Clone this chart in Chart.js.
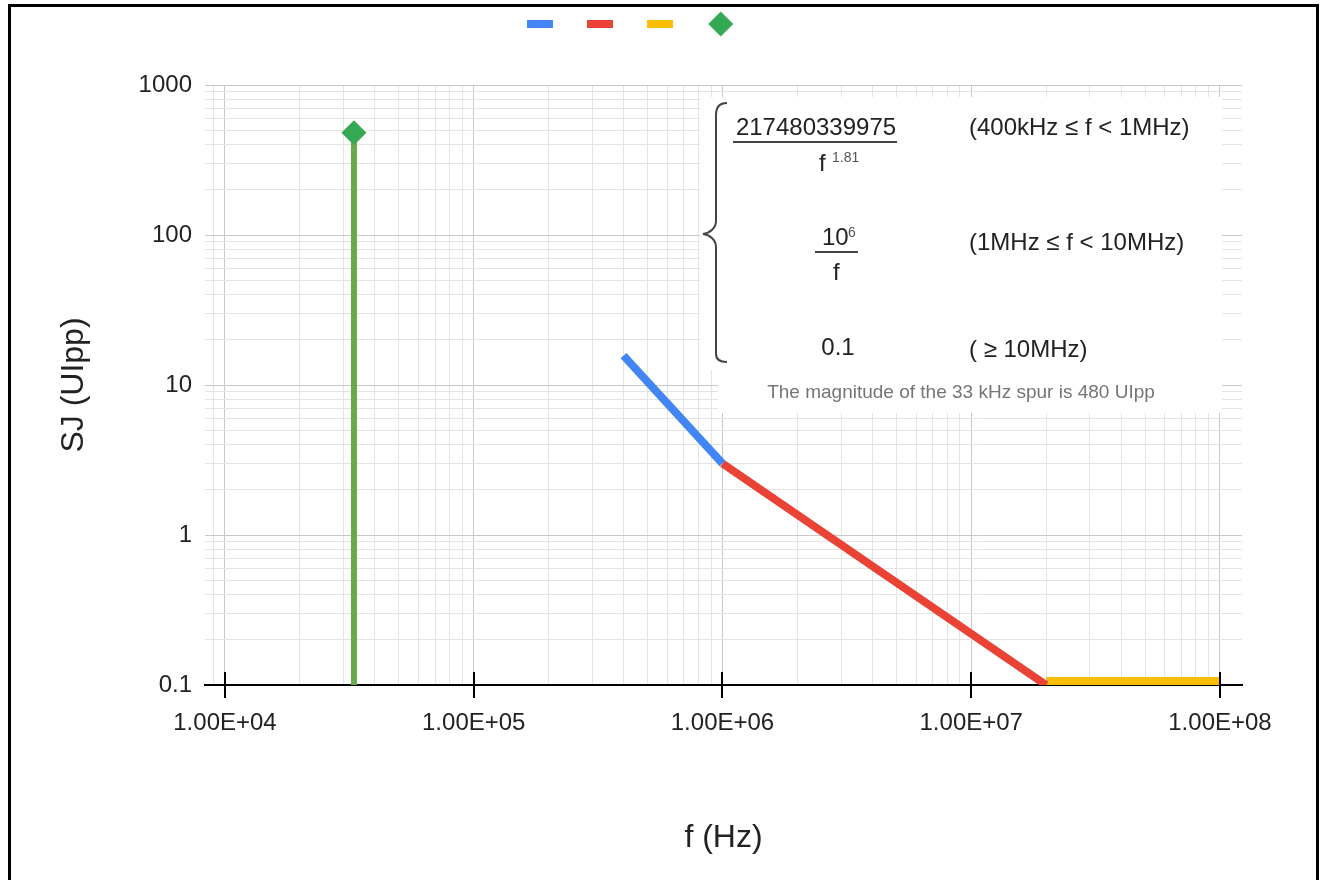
<!DOCTYPE html>
<html>
<head>
<meta charset="utf-8">
<title>SJ tolerance mask</title>
<script src="https://cdn.jsdelivr.net/npm/chart.js@4.4.1/dist/chart.umd.min.js"></script>
<style>
  html, body { margin: 0; padding: 0; background: #fff; overflow: hidden; }
  body { width: 1321px; height: 880px; position: relative; font-family: 'Liberation Sans', Arial, sans-serif; color: #222; }
  #mycanvas { position: absolute; left: 0; top: 0; }
  .frame { position: absolute; left: 8px; top: 4px; width: 1311px; height: 900px; border: 3px solid #000; border-bottom: none; box-sizing: border-box; pointer-events: none; }
  .panel { position: absolute; background: #fff; }
  .t { position: absolute; font-size: 24px; line-height: 28px; white-space: nowrap; }
  .c { text-align: center; }
  .bar { position: absolute; height: 2px; background: #444; }
  .sup { position: absolute; font-size: 14px; line-height: 16px; color: #555; white-space: nowrap; }
  .note { position: absolute; font-size: 19px; line-height: 22px; color: #757575; white-space: nowrap; text-align: center; }
</style>
</head>
<body>
<canvas id="mycanvas" width="1321" height="880"></canvas>

<!-- formula panel laid over the plot -->
<div class="panel" style="left:700px; top:97px; width:522px; height:273px;"></div>
<div class="panel" style="left:718px; top:370px; width:504px; height:43px;"></div>
<svg style="position:absolute; left:690px; top:95px;" width="45" height="275">
  <path d="M37 8 C30 8, 26 12, 26 20 L26 126 C26 133, 20 138, 13 139 C20 140, 26 145, 26 152 L26 259 C26 265, 30 267, 37 267"
        fill="none" stroke="#444" stroke-width="2"/>
</svg>
<div class="t c" style="left:716px; top:113px; width:200px;">217480339975</div>
<div class="bar" style="left:733px; top:141px; width:164px;"></div>
<div class="t" style="left:819px; top:149px;">f</div>
<div class="sup" style="left:832px; top:149px;">1.81</div>
<div class="t" style="left:822px; top:223px;">10</div>
<div class="sup" style="left:848px; top:224px;">6</div>
<div class="bar" style="left:815px; top:251px; width:43px;"></div>
<div class="t" style="left:833px; top:258px;">f</div>
<div class="t c" style="left:788px; top:333px; width:100px;">0.1</div>
<div class="t" style="left:969px; top:113px;">(400kHz ≤ f &lt; 1MHz)</div>
<div class="t" style="left:969px; top:228px;">(1MHz ≤ f &lt; 10MHz)</div>
<div class="t" style="left:969px; top:335px;">( ≥ 10MHz)</div>
<div class="note" style="left:761px; top:381px; width:400px;">The magnitude of the 33 kHz spur is 480 UIpp</div>

<div class="frame"></div>

<script>
// frequency in Hz, jitter in UIpp
var spurFreq = [33000, 33000];
var spurUI = [0.1, 480];
var bandAFreq = [400000, 1000000];
var bandAUI = [15.7, 3.0];
var bandBFreq = [1000000, 20000000];
var bandBUI = [3.0, 0.1];
var bandCFreq = [20000000, 100000000];
var bandCUI = [0.1, 0.1];

var xDecades = [1e4, 1e5, 1e6, 1e7, 1e8];
var xLabels = ['1.00E+04', '1.00E+05', '1.00E+06', '1.00E+07', '1.00E+08'];
var yDecades = [0.1, 1, 10, 100, 1000];
var yLabels = ['0.1', '1', '10', '100', '1000'];

var xMin = 8311, xMax = 1.226e8;
var yMin = 0.1, yMax = 1000;

Chart.defaults.font.family = "'Liberation Sans', Arial, sans-serif";

function pts(xs, ys) {
    return xs.map(function(x, i) { return {x: x, y: ys[i]}; });
}

function isDecade(v) {
    var l = Math.log10(v);
    return Math.abs(l - Math.round(l)) < 1e-9;
}

// 1..9 in every decade, so every minor grid line shows
function logTicks(min, max) {
    var out = [];
    for (var e = Math.floor(Math.log10(min)); e <= Math.ceil(Math.log10(max)); e++) {
        for (var m = 1; m < 10; m++) {
            var v = +(m * Math.pow(10, e)).toPrecision(12);
            if (v >= min * 0.999 && v <= max * 1.001) out.push({value: v});
        }
    }
    return out;
}

function labelFor(decades, labels) {
    return function(v) {
        var i = decades.findIndex(function(d) { return Math.abs(d - v) / d < 1e-9; });
        return i < 0 ? '' : labels[i];
    };
}

function marker(color, diamond) {
    var c = document.createElement('canvas');
    if (diamond) {
        c.width = 26; c.height = 26;
        var g = c.getContext('2d');
        g.fillStyle = color;
        g.beginPath();
        g.moveTo(13, 0.5); g.lineTo(25.5, 13); g.lineTo(13, 25.5); g.lineTo(0.5, 13);
        g.closePath(); g.fill();
    } else {
        c.width = 26; c.height = 8;
        var g2 = c.getContext('2d');
        g2.fillStyle = color;
        g2.fillRect(0, 0, 26, 8);
    }
    return c;
}

var legendMarks = [
    marker('#4285f4'), marker('#ea4335'), marker('#fbbc04'), marker('#34a853', true)
];

// black tick crosses on the x axis at each decade
var majorTicks = {
    id: 'majorTicks',
    afterDatasetsDraw: function(chart) {
        var ctx = chart.ctx, x = chart.scales.x, area = chart.chartArea;
        ctx.save();
        ctx.strokeStyle = '#000';
        ctx.lineWidth = 2;
        xDecades.forEach(function(v) {
            var px = Math.round(x.getPixelForValue(v));
            ctx.beginPath();
            ctx.moveTo(px, area.bottom - 13);
            ctx.lineTo(px, area.bottom + 13);
            ctx.stroke();
        });
        ctx.restore();
    }
};

var gridColor = function(c) { return isDecade(c.tick.value) ? '#c8c8c8' : '#e4e4e4'; };
var noBottomClip = {left: 10, top: 10, right: 10, bottom: 0};

var ctx = document.getElementById('mycanvas');
var myChart = new Chart(ctx, {
    type: 'line',
    data: {
        datasets: [{
            label: '400 kHz - 1 MHz',
            data: pts(bandAFreq, bandAUI),
            borderColor: '#4285f4',
            borderWidth: 8,
            pointRadius: 0
        }, {
            label: '1 MHz - 20 MHz',
            data: pts(bandBFreq, bandBUI),
            borderColor: '#ea4335',
            borderWidth: 8,
            pointRadius: 0,
            clip: noBottomClip
        }, {
            label: '>= 20 MHz',
            data: pts(bandCFreq, bandCUI),
            borderColor: '#fbbc04',
            borderWidth: 16,
            pointRadius: 0,
            clip: noBottomClip
        }, {
            label: '33 kHz spur',
            data: pts(spurFreq, spurUI),
            borderColor: '#6aa84f',
            borderWidth: 6,
            pointStyle: 'rectRot',
            pointRadius: [0, 12.5],
            pointBackgroundColor: '#34a853',
            pointBorderWidth: 0,
            clip: noBottomClip
        }]
    },
    options: {
        responsive: false,
        animation: false,
        events: [],
        devicePixelRatio: 1,
        layout: {padding: {top: -35.4, left: 69.2, right: 79, bottom: 0}},
        plugins: {
            tooltip: {enabled: false},
            legend: {
                position: 'top',
                align: 'center',
                labels: {
                    // big font only to reserve the gap under the legend row
                    font: {size: 102},
                    padding: 8.4,
                    usePointStyle: true,
                    pointStyleWidth: 1,
                    generateLabels: function(chart) {
                        return chart.data.datasets.map(function(ds, i) {
                            return {text: '', pointStyle: legendMarks[i], datasetIndex: i,
                                    fillStyle: ds.borderColor, strokeStyle: ds.borderColor, lineWidth: 0, hidden: false};
                        });
                    }
                }
            }
        },
        scales: {
            x: {
                type: 'logarithmic',
                min: xMin,
                max: xMax,
                afterBuildTicks: function(scale) { scale.ticks = logTicks(scale.min, scale.max); },
                afterFit: function(scale) { scale.height = 195; },
                grid: {color: gridColor, lineWidth: 1, drawTicks: false},
                border: {display: true, color: '#000', width: 2},
                ticks: {
                    autoSkip: false, maxRotation: 0, minRotation: 0,
                    padding: 24, color: '#222', font: {size: 24},
                    callback: labelFor(xDecades, xLabels)
                },
                title: {display: true, text: 'f (Hz)', color: '#222', font: {size: 32}, padding: {top: 0, bottom: 23}}
            },
            y: {
                type: 'logarithmic',
                min: yMin,
                max: yMax,
                afterBuildTicks: function(scale) { scale.ticks = logTicks(scale.min, scale.max); },
                afterFit: function(scale) { scale.width = 135.8; },
                grid: {color: gridColor, lineWidth: 1, drawTicks: false},
                border: {display: false},
                ticks: {
                    autoSkip: false, padding: 13, color: '#222', font: {size: 24},
                    callback: labelFor(yDecades, yLabels)
                },
                title: {display: true, text: 'SJ (UIpp)', color: '#222', font: {size: 32, lineHeight: 0.25}, padding: {top: 0.8, bottom: 0}}
            }
        }
    },
    plugins: [majorTicks]
});
</script>
</body>
</html>
